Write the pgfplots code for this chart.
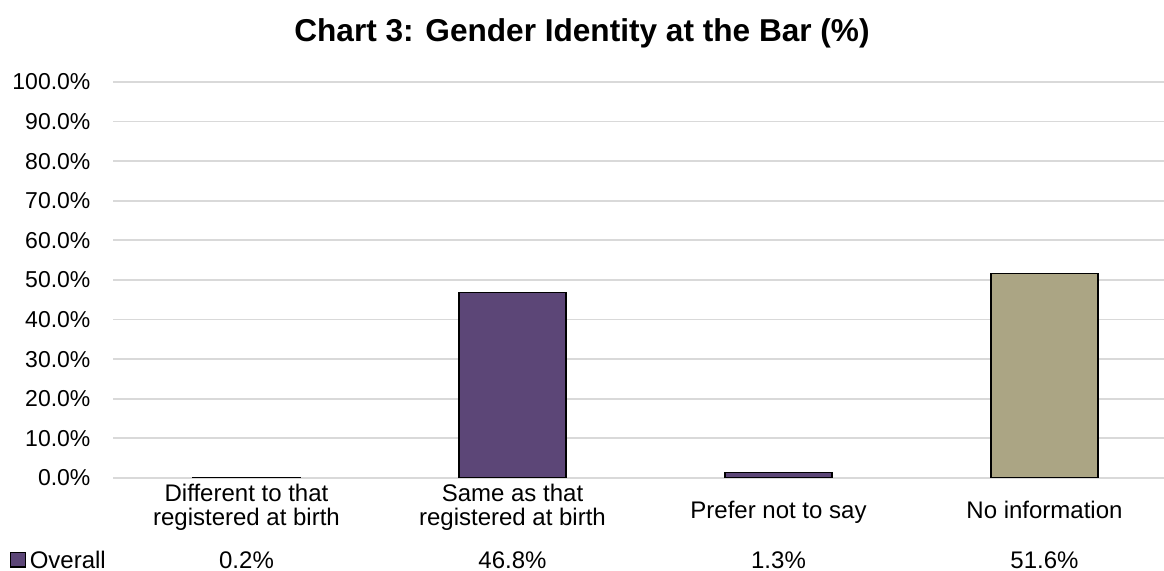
\documentclass[border=0pt]{standalone}
\usepackage{fontspec}
\setmainfont{Liberation Sans}
\usepackage{pgfplots}
\pgfplotsset{compat=1.18}
\definecolor{barpurple}{HTML}{5C4677}
\definecolor{barkhaki}{HTML}{ABA584}
\begin{document}
\begin{tikzpicture}
\begin{axis}[
  scale only axis, width=532pt, height=198pt,
  xmin=-0.5, xmax=3.5, ymin=0, ymax=100,
  ytick distance=10,
  ymajorgrids, grid style={draw=gray!30, line width=0.9pt},
  axis line style={draw=none}, major tick length=0pt,
  /pgf/number format/assume math mode=true,
  yticklabel={\pgfmathprintnumber[fixed, fixed zerofill, precision=1]{\tick}\%},
  yticklabel style={font=\fontsize{11.5}{13}\selectfont, anchor=east, xshift=-8pt},
  xtick={0,1,2,3},
  xticklabels={{Different to that\\registered at birth},{Same as that\\registered at birth},
    {\raisebox{-5.7pt}[0pt][0pt]{Prefer not to say}},{\raisebox{-5.7pt}[0pt][0pt]{No information}}},
  xticklabel style={align=center, anchor=center, yshift=-14.8pt, font=\fontsize{12}{12}\selectfont},
  extra x ticks={0,1,2,3},
  extra x tick labels={0.2\%,46.8\%,1.3\%,51.6\%},
  extra x tick style={grid=none, xticklabel style={yshift=-26.5pt, inner sep=0pt}},
  ybar, bar width=53.5pt, bar shift=0pt,
  legend style={at={(-0.0975,-0.2115)}, anchor=west, draw=none, fill=none, inner sep=0pt,
    font=\fontsize{12}{12}\selectfont, legend cell align=left,
    nodes={inner sep=0pt}},
  legend image code/.code={\draw[#1] (0pt,-2.6pt) rectangle (7.2pt,4.6pt);},
]
\addplot[fill=barpurple, draw=black, line width=0.6pt] coordinates {(0,0.2) (1,46.8) (2,1.3)};
\addlegendentry{\,Overall}
\addplot[fill=barkhaki, draw=black, line width=0.6pt, forget plot] coordinates {(3,51.6)};
\end{axis}
\node[font=\bfseries\fontsize{15.8}{18}\selectfont] at (234.25pt,222.5pt) {Chart 3: Gender Identity at the Bar (\%)};
\pgfresetboundingbox
\path (-56.75pt,-46.5pt) rectangle (525.25pt,239pt);
\end{tikzpicture}
\end{document}
